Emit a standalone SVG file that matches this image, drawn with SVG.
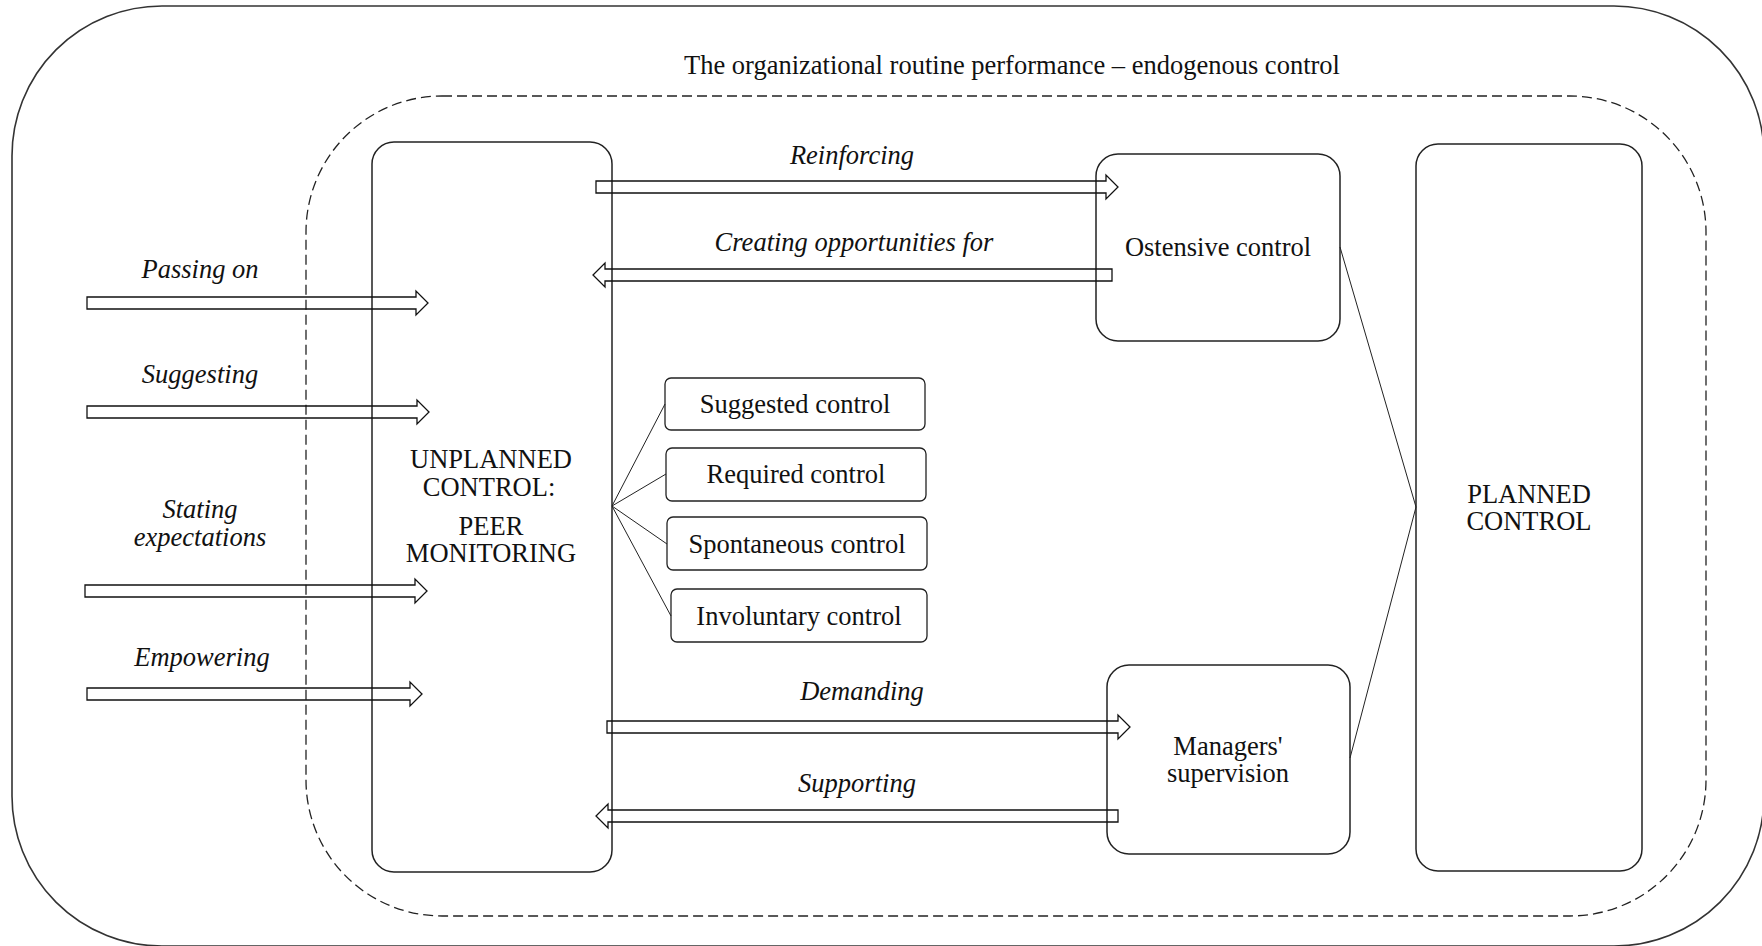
<svg xmlns="http://www.w3.org/2000/svg" width="1762" height="946" viewBox="0 0 1762 946">
  <style>
    text { font-family: "Liberation Serif", "Times New Roman", serif; font-size: 26.5px; fill: #111; text-anchor: middle; }
    .it { font-style: italic; }
    .box { fill: none; stroke: #222; stroke-width: 1.5; }
    .sub { fill: none; stroke: #222; stroke-width: 1.3; }
    .frame { fill: none; stroke: #333; stroke-width: 1.6; }
    .scope { fill: none; stroke: #222; stroke-width: 1.3; stroke-dasharray: 10 5; }
    .arrow { fill: none; stroke: #111; stroke-width: 1.3; stroke-linejoin: miter; }
    .link { fill: none; stroke: #222; stroke-width: 1; }
  </style>

  <!-- outer frame and the dashed boundary of the routine performance -->
  <g id="frame">
    <rect class="frame" x="12" y="6" width="1752" height="940" rx="150" ry="150"/>
    <rect class="scope" x="306" y="96" width="1400" height="820" rx="136" ry="136"/>
    <text x="1012" y="74">The organizational routine performance – endogenous control</text>
  </g>

  <!-- nodes -->
  <g id="unplanned">
    <rect class="box" x="372" y="142" width="240" height="730" rx="22"/>
    <text x="491" y="468">UNPLANNED</text>
    <text x="489" y="496">CONTROL:</text>
    <text x="491" y="535">PEER</text>
    <text x="491" y="562">MONITORING</text>
  </g>

  <g id="ostensive">
    <rect class="box" x="1096" y="154" width="244" height="187" rx="22"/>
    <text x="1218" y="256">Ostensive control</text>
  </g>

  <g id="managers">
    <rect class="box" x="1107" y="665" width="243" height="189" rx="22"/>
    <text x="1228" y="755">Managers'</text>
    <text x="1228" y="782">supervision</text>
  </g>

  <g id="planned">
    <rect class="box" x="1416" y="144" width="226" height="727" rx="22"/>
    <text x="1529" y="503">PLANNED</text>
    <text x="1529" y="530">CONTROL</text>
  </g>

  <g id="suggested">
    <rect class="sub" x="665" y="378" width="260" height="52" rx="6"/>
    <text x="795" y="413">Suggested control</text>
  </g>
  <g id="required">
    <rect class="sub" x="666" y="448" width="260" height="53" rx="6"/>
    <text x="796" y="483">Required control</text>
  </g>
  <g id="spontaneous">
    <rect class="sub" x="667" y="517" width="260" height="53" rx="6"/>
    <text x="797" y="553">Spontaneous control</text>
  </g>
  <g id="involuntary">
    <rect class="sub" x="671" y="589" width="256" height="53" rx="6"/>
    <text x="799" y="625">Involuntary control</text>
  </g>

  <!-- connectors -->
  <g id="connectors">
    <!-- fan from peer monitoring to its four kinds -->
    <path class="link" d="M612,506 L665,404 M612,506 L666,474 M612,506 L667,544 M612,506 L671,616"/>
    <!-- ostensive control and supervision feed planned control -->
    <path class="link" d="M1340,247 L1416,507 L1350,758"/>

    <!-- inbound block arrows on the left -->
    <path class="arrow" d="M87,297 H416 V291 L428,303 L416,315 V309 H87 Z"/>
    <path class="arrow" d="M87,406 H417 V400 L429,412 L417,424 V418 H87 Z"/>
    <path class="arrow" d="M85,585 H415 V579 L427,591 L415,603 V597 H85 Z"/>
    <path class="arrow" d="M87,688 H410 V682 L422,694 L410,706 V700 H87 Z"/>

    <!-- exchanges with ostensive control -->
    <path class="arrow" d="M596,181 H1106 V175 L1118,187 L1106,199 V193 H596 Z"/>
    <path class="arrow" d="M1112,269 H605 V263 L593,275 L605,287 V281 H1112 Z"/>

    <!-- exchanges with managers' supervision -->
    <path class="arrow" d="M607,721 H1118 V715 L1130,727 L1118,739 V733 H607 Z"/>
    <path class="arrow" d="M1118,810 H608 V804 L596,816 L608,828 V822 H1118 Z"/>

    <text class="it" x="200" y="278">Passing on</text>
    <text class="it" x="200" y="383">Suggesting</text>
    <text class="it" x="200" y="518">Stating</text>
    <text class="it" x="200" y="546">expectations</text>
    <text class="it" x="202" y="666">Empowering</text>
    <text class="it" x="852" y="164">Reinforcing</text>
    <text class="it" x="854" y="251">Creating opportunities for</text>
    <text class="it" x="862" y="700">Demanding</text>
    <text class="it" x="857" y="792">Supporting</text>
  </g>
</svg>
